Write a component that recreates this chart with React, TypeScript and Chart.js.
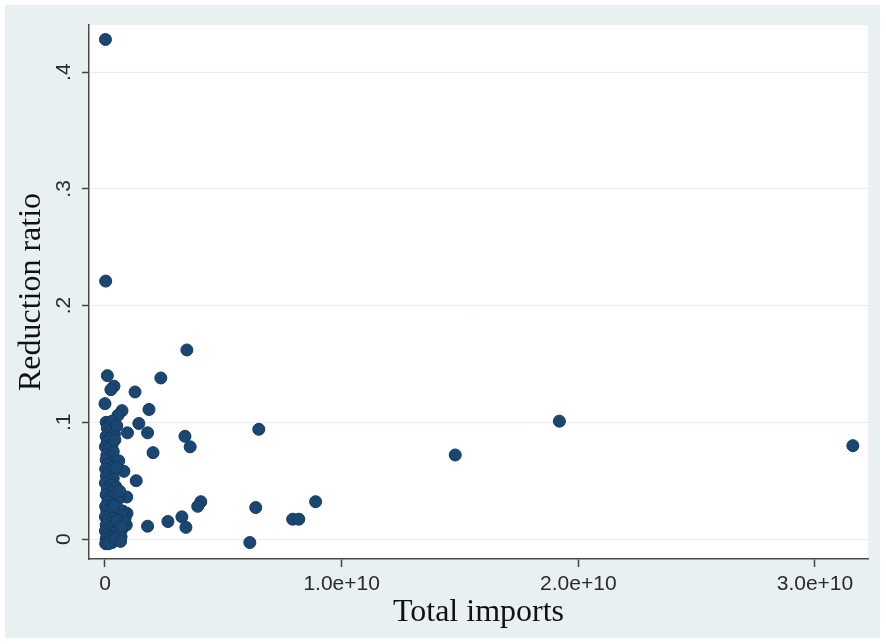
import React, { useEffect, useRef } from 'react';
import { Chart, registerables } from 'chart.js';

Chart.register(...registerables);

// values (x in USD, y as share)
const totalImports = [
  0.02e9, 0.03e9, 0.1e9, 3.46e9, 2.36e9, 0.38e9, 0.25e9, 1.27e9, 0.0, 1.86e9,
  0.72e9, 0.55e9, 6.5e9, 19.2e9, 14.8e9, 31.6e9, 3.38e9, 3.6e9, 1.43e9, 0.95e9,
  1.8e9, 0.35e9, 2.03e9, 0.8e9, 1.32e9, 0.92e9, 4.05e9, 3.92e9, 6.37e9, 0.93e9,
  1.8e9, 2.66e9, 3.25e9, 3.42e9, 6.12e9, 7.93e9, 8.19e9, 8.9e9, 0.68e9,
  0.75e9, 0.85e9, 0.6e9, 0.9e9, 0.5e9, 0.7e9, 0.55e9, 0.45e9, 0.6e9,
  // dense column close to zero
  0.05e9, 0.15e9, 0.3e9, 0.1e9, 0.25e9, 0.4e9, 0.05e9, 0.2e9, 0.1e9, 0.3e9,
  0.02e9, 0.15e9, 0.35e9, 0.08e9, 0.22e9, 0.05e9, 0.3e9, 0.12e9, 0.4e9, 0.03e9,
  0.18e9, 0.28e9, 0.06e9, 0.35e9, 0.14e9, 0.02e9, 0.25e9, 0.45e9, 0.1e9, 0.3e9,
  0.05e9, 0.2e9, 0.5e9, 0.12e9, 0.35e9, 0.03e9, 0.25e9, 0.6e9, 0.08e9, 0.4e9,
  0.15e9, 0.7e9, 0.02e9, 0.3e9, 0.55e9, 0.1e9, 0.8e9, 0.2e9, 0.45e9, 0.05e9,
  0.65e9, 0.3e9, 0.12e9, 0.5e9, 0.02e9, 0.25e9, 0.4e9, 0.08e9, 0.6e9, 0.18e9,
  0.35e9, 0.05e9, 0.22e9, 0.12e9, 0.3e9, 0.03e9, 0.15e9,
  0.5e9, 0.42e9, 0.58e9, 0.48e9, 0.62e9, 0.38e9, 0.52e9, 0.72e9, 0.45e9, 0.66e9,
];

const reductionRatio = [
  0.428, 0.221, 0.14, 0.162, 0.138, 0.131, 0.128, 0.126, 0.116, 0.111,
  0.11, 0.106, 0.094, 0.101, 0.072, 0.08, 0.088, 0.079, 0.099, 0.091,
  0.091, 0.091, 0.074, 0.058, 0.05, 0.036, 0.032, 0.028, 0.027, 0.022,
  0.011, 0.015, 0.019, 0.01, -0.003, 0.017, 0.017, 0.032, 0.002,
  0.024, 0.018, 0.014, 0.012, 0.02, 0.008, 0.005, 0.045, 0.035,
  0.1, 0.098, 0.101, 0.095, 0.093, 0.09, 0.088, 0.086, 0.083, 0.081,
  0.079, 0.077, 0.075, 0.072, 0.07, 0.068, 0.066, 0.064, 0.062, 0.06,
  0.058, 0.056, 0.054, 0.052, 0.05, 0.048, 0.046, 0.044, 0.042, 0.04,
  0.038, 0.036, 0.034, 0.032, 0.03, 0.028, 0.026, 0.025, 0.024, 0.022,
  0.021, 0.02, 0.019, 0.018, 0.017, 0.016, 0.015, 0.014, 0.013, 0.012,
  0.011, 0.01, 0.009, 0.008, 0.007, 0.006, 0.005, 0.004, 0.003, 0.002,
  0.001, 0.0, -0.001, -0.002, -0.003, -0.004, -0.004,
  0.097, 0.085, 0.067, 0.061, 0.041, 0.029, 0.016, 0.011, 0.0, -0.002,
];

const xTicks = [0, 1e10, 2e10, 3e10];
const xTickLabels = ['0', '1.0e+10', '2.0e+10', '3.0e+10'];
const yTicks = [0, 0.1, 0.2, 0.3, 0.4];
const yTickLabels = ['0', '.1', '.2', '.3', '.4'];

const OUTER_BG = '#e9f0f2';
const MARKER = '#1a4672';

const backgrounds = {
  id: 'backgrounds',
  beforeDraw(chart: Chart) {
    const { ctx, width, height, chartArea } = chart;
    ctx.save();
    ctx.fillStyle = '#ffffff';
    ctx.fillRect(0, 0, width, height);
    ctx.fillStyle = OUTER_BG;
    ctx.fillRect(5, 5, width - 11, height - 11);
    ctx.fillStyle = '#ffffff';
    ctx.fillRect(chartArea.left, chartArea.top, chartArea.right - chartArea.left, chartArea.bottom - chartArea.top);
    ctx.restore();
  },
};

// stata style: y tick labels turned on their side
const rotatedYLabels = {
  id: 'rotatedYLabels',
  afterDraw(chart: Chart) {
    const { ctx } = chart;
    const y = chart.scales.y;
    ctx.save();
    ctx.font = '21px "Liberation Sans", Arial, sans-serif';
    ctx.fillStyle = '#2a2a2a';
    ctx.textAlign = 'center';
    ctx.textBaseline = 'middle';
    yTicks.forEach((v, i) => {
      const py = y.getPixelForValue(v);
      ctx.save();
      ctx.translate(64, py);
      ctx.rotate(-Math.PI / 2);
      ctx.fillText(yTickLabels[i], 0, 0);
      ctx.restore();
    });
    ctx.restore();
  },
};

const App: React.FC = () => {
  const chartRef = useRef<HTMLCanvasElement>(null);
  const chartInstance = useRef<Chart | null>(null);

  useEffect(() => {
    document.body.style.margin = '0';
    if (chartInstance.current) {
      chartInstance.current.destroy();
    }
    if (!chartRef.current) return;

    const points = totalImports.map((x, i) => ({ x, y: reductionRatio[i] }));

    chartInstance.current = new Chart(chartRef.current, {
      type: 'scatter',
      data: {
        datasets: [{
          label: 'Reduction ratio',
          data: points,
          backgroundColor: MARKER,
          borderColor: '#153a5f',
          borderWidth: 1,
          pointRadius: 6,
        }],
      },
      options: {
        animation: false,
        responsive: true,
        maintainAspectRatio: false,
        layout: { padding: { left: 0, top: 25, right: 18, bottom: 0 } },
        plugins: {
          legend: { display: false },
          tooltip: { enabled: false },
        },
        scales: {
          x: {
            type: 'linear',
            min: -6.75e8,
            max: 3.224e10,
            afterBuildTicks: (scale: any) => {
              scale.ticks = xTicks.map((value) => ({ value }));
            },
            afterFit: (scale: any) => {
              scale.height = 85;
            },
            grid: {
              drawOnChartArea: false,
              drawTicks: true,
              tickLength: 8,
              tickColor: '#444444',
              tickWidth: 1.5,
            },
            border: { display: true, color: '#4a4a4a', width: 1.5 },
            ticks: {
              padding: 5,
              color: '#2a2a2a',
              font: { family: '"Liberation Sans", Arial, sans-serif', size: 21 },
              maxRotation: 0,
              callback: (value: any) => {
                const i = xTicks.indexOf(Number(value));
                return i >= 0 ? xTickLabels[i] : '';
              },
            },
            title: {
              display: true,
              text: 'Total imports',
              color: '#111111',
              font: { family: '"Liberation Serif", "Times New Roman", serif', size: 32 },
              padding: { top: 0, bottom: 12 },
            },
          },
          y: {
            type: 'linear',
            min: -0.0171,
            max: 0.4404,
            afterBuildTicks: (scale: any) => {
              scale.ticks = yTicks.map((value) => ({ value }));
            },
            afterFit: (scale: any) => {
              scale.width = 89;
            },
            grid: {
              color: '#e8edef',
              lineWidth: 1,
              drawTicks: true,
              tickLength: 7,
              tickColor: '#444444',
              tickWidth: 1.5,
            },
            border: { display: true, color: '#4a4a4a', width: 1.5 },
            ticks: {
              color: 'rgba(0,0,0,0)',
              font: { size: 21 },
            },
            title: {
              display: true,
              text: 'Reduction ratio',
              color: '#111111',
              font: { family: '"Liberation Serif", "Times New Roman", serif', size: 32 },
              padding: { top: 12, bottom: 0 },
            },
          },
        },
      },
      plugins: [backgrounds, rotatedYLabels],
    });

    return () => {
      if (chartInstance.current) {
        chartInstance.current.destroy();
        chartInstance.current = null;
      }
    };
  }, []);

  return (
    <div style={{ width: 886, height: 644, position: 'relative' }}>
      <canvas ref={chartRef}></canvas>
    </div>
  );
};

export default App;
